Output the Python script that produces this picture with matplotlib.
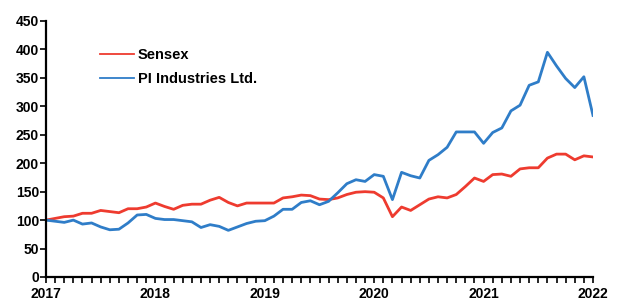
#!/usr/bin/env python3
import matplotlib

matplotlib.use("Agg")
import matplotlib.pyplot as plt
from matplotlib.ticker import MultipleLocator

# monthly index values, Jan 2017 .. Jan 2022 (base 100)
sensex = [
    100, 103, 106, 107, 112, 112, 117, 115, 113, 120, 120, 123,
    130, 124, 119, 126, 128, 128, 135, 140, 131, 125, 130, 130,
    130, 130, 139, 141, 144, 143, 137, 136, 139, 145, 149, 150,
    149, 139, 106, 123, 117, 127, 137, 141, 139, 145, 159, 174,
    168, 180, 181, 177, 190, 192, 192, 209, 216, 216, 206, 213,
    211,
]
pi_industries = [
    100, 98, 96, 100, 93, 95, 88, 83, 84, 95, 109, 110,
    103, 101, 101, 99, 97, 87, 92, 89, 82, 88, 94, 98,
    99, 107, 119, 119, 131, 134, 127, 133, 148, 164, 171, 168,
    180, 177, 136, 184, 178, 174, 205, 215, 228, 255, 255, 255,
    235, 254, 262, 292, 302, 337, 343, 395, 371, 349, 333, 352,
    284,
]
years = ["2017", "2018", "2019", "2020", "2021", "2022"]
series_labels = ["Sensex", "PI Industries Ltd."]

RED = "#EE3B2F"
BLUE = "#2F7DC8"

plt.rcParams.update(
    {
        "font.family": ["Liberation Sans", "DejaVu Sans"],
        "font.weight": "bold",
        "font.size": 10,
    }
)

fig = plt.figure(figsize=(6.23, 3.0), dpi=100)
ax = fig.add_axes([46 / 623, 23 / 300, (593 - 46) / 623, (277 - 21) / 300])

months = list(range(len(sensex)))
ax.plot(months, sensex, color=RED, lw=2.0, label=series_labels[0])
ax.plot(months, pi_industries, color=BLUE, lw=2.0, label=series_labels[1])

ax.set_xlim(0, 60)
ax.set_ylim(0, 450)
ax.set_xticks(range(0, 61, 12))
ax.set_xticklabels(years)
ax.xaxis.set_minor_locator(MultipleLocator(1))
ax.yaxis.set_major_locator(MultipleLocator(50))

for side in ("top", "right"):
    ax.spines[side].set_visible(False)
for side in ("left", "bottom"):
    ax.spines[side].set_linewidth(1.6)
    ax.spines[side].set_color("k")

ax.tick_params(axis="x", which="both", direction="out", length=4, width=1.2, pad=3, colors="k")
ax.tick_params(axis="y", which="major", direction="out", length=4, width=1.2, pad=1, colors="k")

for lbl in ax.get_xticklabels() + ax.get_yticklabels():
    lbl.set_fontweight("bold")
    lbl.set_fontsize(10)

leg = ax.legend(
    loc="upper left",
    bbox_to_anchor=(0.099, 0.893),
    frameon=False,
    borderpad=0,
    borderaxespad=0,
    handlelength=2.3,
    handletextpad=0.3,
    labelspacing=0.68,
    prop={"weight": "bold", "size": 10.5},
)
for h in leg.get_lines():
    h.set_linewidth(1.3)

fig.savefig("out.png", dpi=100)
plt.close(fig)
